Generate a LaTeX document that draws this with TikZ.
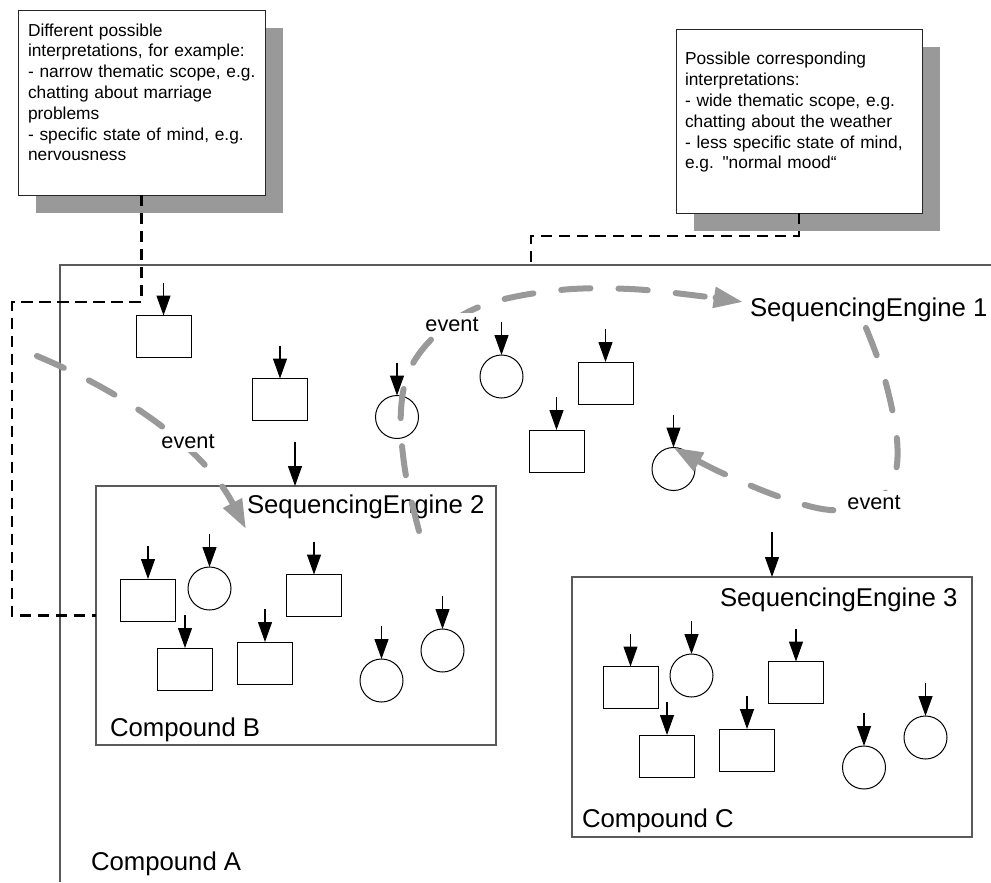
\documentclass[tikz,border=0pt]{standalone}
\usepackage{fontspec}
\setmainfont{Liberation Sans}
\newfontfamily\notefont{Liberation Sans}[Ligatures=TeXOff]
\usetikzlibrary{arrows.meta,shadows}
\definecolor{flowgray}{HTML}{999999}
\definecolor{shadowgray}{HTML}{999999}
\definecolor{framegray}{HTML}{5A5A5A}

\begin{document}
\begin{tikzpicture}[x=0.75pt,y=-0.75pt,
  every node/.style={inner sep=0pt, outer sep=0pt},
  notebox/.style={draw=black!85, line width=0.75pt, fill=white, anchor=north west,
    drop shadow={shadow xshift=13.5pt, shadow yshift=-13.5pt, fill=shadowgray, opacity=1}},
  notetext/.style={anchor=north west, align=left, text width=180pt,
    font=\notefont\fontsize{13}{15.6}\selectfont},
  compoundbox/.style={draw=framegray, line width=0.9pt, anchor=north west},
  compoundframe/.style={draw=framegray, line width=0.9pt},
  bigtext/.style={anchor=base west, font=\fontsize{19.3}{23}\selectfont},
  eventtext/.style={anchor=base, fill=white, inner sep=3pt, font=\fontsize{16.3}{19}\selectfont},
  boxpart/.style={draw=black, line width=0.75pt, fill=white, minimum width=41.25pt, minimum height=31.5pt},
  roundpart/.style={circle, draw=black, line width=0.75pt, fill=white, minimum size=32.25pt},
  feedarrow/.style={draw=black, line width=0.9pt, -{Triangle[length=15pt,width=10.5pt]}},
  notelink/.style={draw=black, line width=1.7pt, dash pattern=on 8.5pt off 5pt},
  eventflow/.style={draw=flowgray, line width=4.5pt, line cap=round,
    dash pattern=on 22pt off 21pt, -{Triangle[length=22pt,width=15pt]}},
]
\useasboundingbox (0,0) rectangle (991,882);

% ---- annotation notes ----
\node[notebox, minimum width=185.25pt, minimum height=138.75pt] (nl) at (18,10) {};
\node[notetext] (nltext) at (28,23.5) {Different possible\\
interpretations, for example:\\
- narrow thematic scope, e.g.\\
chatting about marriage\\
problems\\
- specific state of mind, e.g.\\
nervousness};

\node[notebox, minimum width=184.5pt, minimum height=138pt] (nr) at (676,29) {};
\node[notetext] (nrtext) at (685,52.3) {Possible corresponding\\
interpretations:\\
- wide thematic scope, e.g.\\
chatting about the weather\\
- less specific state of mind,\\
e.g. "normal mood“};

% ---- Compound A (open frame) ----
\coordinate (atop) at (60,265);
\coordinate (aright) at (991,265);
\coordinate (abottom) at (60,882);
\draw[compoundframe] (aright) -- (atop) -- (abottom);
\node[bigtext] (alabel) at (91,870) {Compound A};

% ---- Compound B and C ----
\node[compoundbox, minimum width=300pt, minimum height=194.25pt] (cb) at (96,486) {};
\node[compoundbox, minimum width=300pt, minimum height=195pt] (cc) at (572,577) {};
\node[bigtext] (blabel) at (110,736) {Compound B};
\node[bigtext] (clabel) at (582,827) {Compound C};

% inputs into the compounds
\coordinate (feedB) at (295,442);
\coordinate (feedC) at (772,532);
\draw[feedarrow] (feedB) -- (feedB |- cb.north);
\draw[feedarrow] (feedC) -- (feedC |- cc.north);

% ---- parts inside Compound A ----
\node[boxpart]   (a1) at (163.5,336.5) {};
\node[boxpart]   (a2) at (280,399.5) {};
\node[roundpart] (a3) at (397,417) {};
\node[roundpart] (a4) at (501.5,376.5) {};
\node[boxpart]   (a5) at (605.5,383) {};
\node[boxpart]   (a6) at (556.5,451) {};
\node[roundpart] (a7) at (673.5,469) {};

% ---- parts inside Compound B ----
\node[boxpart]   (b1) at (148,600) {};
\node[roundpart] (b2) at (209.5,588.5) {};
\node[boxpart]   (b3) at (314,595.5) {};
\node[boxpart]   (b4) at (185,669) {};
\node[boxpart]   (b5) at (265,663) {};
\node[roundpart] (b6) at (381.5,680.5) {};
\node[roundpart] (b7) at (442.5,650.5) {};

% ---- parts inside Compound C ----
\node[boxpart]   (c1) at (630.5,687.5) {};
\node[roundpart] (c2) at (691.5,675.5) {};
\node[boxpart]   (c3) at (796,682.5) {};
\node[boxpart]   (c4) at (667,756) {};
\node[boxpart]   (c5) at (747,750) {};
\node[roundpart] (c6) at (864,767.5) {};
\node[roundpart] (c7) at (925.5,737.5) {};

% every part receives an input from above
\foreach \p in {a1,a2,a3,a4,a5,a6,a7,b1,b2,b3,b4,b5,b6,b7,c1,c2,c3,c4,c5,c6,c7}
  \draw[feedarrow] (\p.north) ++(0,-33) -- (\p.north);

% ---- sequencing engine labels ----
\node[bigtext] (se1) at (750,316) {SequencingEngine 1};
\node[bigtext] (se2) at (247,513.5) {SequencingEngine 2};
\node[bigtext] (se3) at (720,606) {SequencingEngine 3};

% ---- links from the notes ----
\coordinate (leftrail) at (12,302);
\coordinate (rightrail) at (531,236);
\draw[notelink] (nl.south) |- (leftrail) |- (cb.west);
\draw[notelink] (nr.south) |- (rightrail) -- (rightrail |- atop);

% ---- event flows ----
\coordinate (f1s) at (37,356);
\coordinate (f1e) at (246,529);
\draw[eventflow] (f1s) .. controls (130,395) and (205,450) .. (f1e);

\coordinate (f2s) at (419,531);
\coordinate (f2e) at (743,302);
\draw[eventflow] plot[smooth, tension=0.6] coordinates
  {(f2s) (405,470) (401,410) (412,365) (445,327) (490,303) (560,290) (630,289) (700,296) (f2e)};

\coordinate (f3s) at (866,328);
\draw[eventflow] plot[smooth, tension=0.6] coordinates
  {(f3s) (885,380) (897,440) (893,480) (870,505) (830,510) (780,497) (720,472) (a7.north)};

\node[eventtext] (ev1) at (188,448) {event};
\node[eventtext] (ev2) at (452,331) {event};
\node[eventtext] (ev3) at (874,509) {event};
\end{tikzpicture}
\end{document}
